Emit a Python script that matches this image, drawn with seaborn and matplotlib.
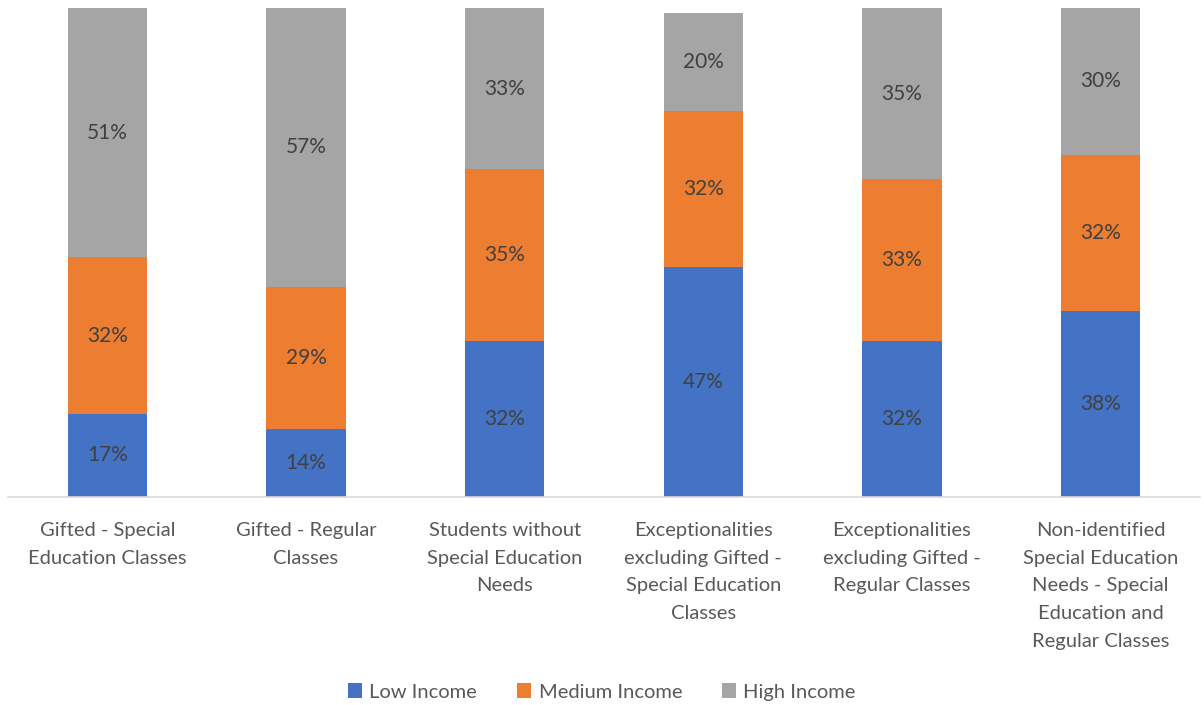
import matplotlib
matplotlib.use("Agg")
import matplotlib.pyplot as plt
import seaborn as sns
import pandas as pd
import numpy as np
from matplotlib.patches import Patch

categories = [
    "Gifted - Special\nEducation Classes",
    "Gifted - Regular\nClasses",
    "Students without\nSpecial Education\nNeeds",
    "Exceptionalities\nexcluding Gifted -\nSpecial Education\nClasses",
    "Exceptionalities\nexcluding Gifted -\nRegular Classes",
    "Non-identified\nSpecial Education\nNeeds - Special\nEducation and\nRegular Classes",
]
low_income = [17, 14, 32, 47, 32, 38]
medium_income = [32, 29, 35, 32, 33, 32]
high_income = [51, 57, 33, 20, 35, 30]

series_names = ["Low Income", "Medium Income", "High Income"]
colors = ["#4472C4", "#ED7D31", "#A5A5A5"]
text_color = "#595959"

sns.set_theme(style="white")
plt.rcParams["font.family"] = ["Lato", "DejaVu Sans"]

low = np.array(low_income)
med = np.array(medium_income)
high = np.array(high_income)
cum_low = low
cum_med = low + med
cum_high = low + med + high

df = pd.DataFrame({
    "category": categories,
    "low_top": cum_low,
    "med_top": cum_med,
    "high_top": cum_high,
})

fig = plt.figure(figsize=(12.04, 7.05), dpi=100)
ax = fig.add_axes([8 / 1204, 1 - 497 / 705, 1192 / 1204, 489 / 705])

# Layered bars: the tallest (cumulative) bar first, then smaller ones on top
for col, color in zip(["high_top", "med_top", "low_top"], colors[::-1]):
    sns.barplot(data=df, x="category", y=col, color=color, width=0.4,
                saturation=1, ax=ax, linewidth=0, order=categories)

ax.set_ylim(0, 100)
ax.set_xlim(-0.5, len(categories) - 0.5)

# Segment labels centred in each stack piece
for i in range(len(categories)):
    segments = [(0, cum_low[i], low[i]), (cum_low[i], cum_med[i], med[i]),
                (cum_med[i], cum_high[i], high[i])]
    for b, t, v in segments:
        ax.text(i, (b + t) / 2, f"{v}%", ha="center", va="center",
                fontsize=15, color="#404040")

ax.set_xlabel("")
ax.set_ylabel("")
ax.set_yticks([])
ax.set_xticks(range(len(categories)))
ax.set_xticklabels(categories, fontsize=14.5, color=text_color, va="top")
for lbl in ax.get_xticklabels():
    lbl.set_linespacing(1.76)
ax.tick_params(axis="x", length=0, pad=18)
for s in ["top", "left", "right"]:
    ax.spines[s].set_visible(False)
ax.spines["bottom"].set_color("#D9D9D9")
ax.spines["bottom"].set_linewidth(1.2)

handles = [Patch(facecolor=c, edgecolor="none") for c in colors]
fig.legend(handles, series_names, loc="center", bbox_to_anchor=(0.5, 1 - 692 / 705),
           ncol=3, frameon=False, fontsize=14.5, labelcolor=text_color,
           handlelength=0.7, handleheight=0.7, handletextpad=0.35, columnspacing=2.0)

fig.savefig("out.png", dpi=100)
